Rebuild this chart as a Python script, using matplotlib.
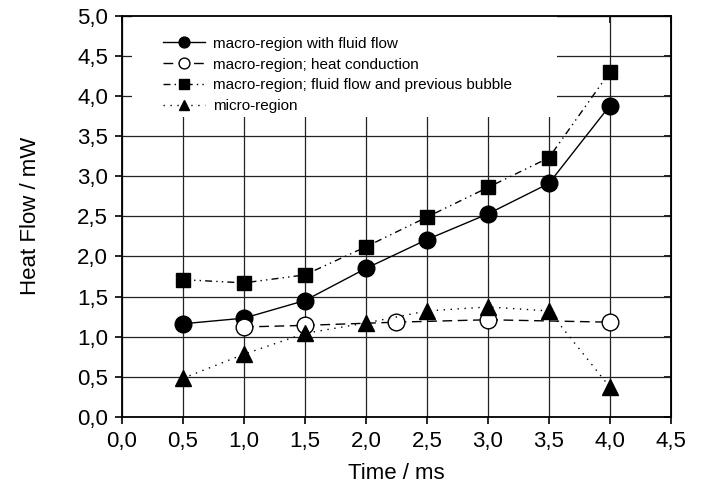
import matplotlib
matplotlib.use('Agg')
import matplotlib.pyplot as plt
from matplotlib.patches import Rectangle
from matplotlib.ticker import FuncFormatter, MultipleLocator

plt.rcParams['font.family'] = ['Liberation Sans', 'DejaVu Sans']

# data
time_main = [0.5, 1.0, 1.5, 2.0, 2.5, 3.0, 3.5, 4.0]
fluid_flow = [1.16, 1.23, 1.45, 1.85, 2.21, 2.53, 2.91, 3.88]
previous_bubble = [1.71, 1.67, 1.77, 2.12, 2.49, 2.86, 3.23, 4.30]
micro_region = [0.48, 0.78, 1.04, 1.17, 1.32, 1.37, 1.32, 0.37]

time_cond = [1.0, 1.5, 2.25, 3.0, 4.0]
heat_conduction = [1.12, 1.14, 1.18, 1.21, 1.18]

labels = ['macro-region with fluid flow',
          'macro-region; heat conduction',
          'macro-region; fluid flow and previous bubble',
          'micro-region']

fig = plt.figure(figsize=(7.01, 4.95), dpi=100)
ax = fig.add_axes([0.174, 0.158, 0.783, 0.810])

lw = 1.0
ax.plot(time_main, fluid_flow, color='black', lw=lw, ls='-',
        marker='o', ms=12, mfc='black', mec='black', label=labels[0], zorder=3)
ax.plot(time_cond, heat_conduction, color='black', lw=lw, ls=(0, (7, 4)),
        marker='o', ms=12, mfc='white', mec='black', mew=1.0, label=labels[1], zorder=3)
ax.plot(time_main, previous_bubble, color='black', lw=lw, ls=(0, (5, 3, 1, 3, 1, 3)),
        marker='s', ms=10, mfc='black', mec='black', label=labels[2], zorder=3)
ax.plot(time_main, micro_region, color='black', lw=lw, ls=(0, (1, 4)),
        marker='^', ms=12, mfc='black', mec='black', label=labels[3], zorder=3)

ax.set_xlim(0, 4.5)
ax.set_ylim(0, 5.0)
ax.xaxis.set_major_locator(MultipleLocator(0.5))
ax.yaxis.set_major_locator(MultipleLocator(0.5))
fmt = FuncFormatter(lambda v, p: f"{v:.1f}".replace('.', ','))
ax.xaxis.set_major_formatter(fmt)
ax.yaxis.set_major_formatter(fmt)

ax.set_axisbelow(True)
ax.grid(True, color='#222222', lw=0.9)

for s in ax.spines.values():
    s.set_linewidth(1.3)

ax.tick_params(direction='out', length=5, width=1.2, labelsize=16, pad=5)

top = ax.secondary_xaxis('top')
top.xaxis.set_major_locator(MultipleLocator(0.5))
top.tick_params(direction='in', length=5, width=1.2, labeltop=False)
right = ax.secondary_yaxis('right')
right.yaxis.set_major_locator(MultipleLocator(0.5))
right.tick_params(direction='in', length=5, width=1.2, labelright=False)

ax.set_xlabel('Time / ms', fontsize=16, labelpad=8)
ax.set_ylabel('Heat Flow / mW', fontsize=16, labelpad=26)

# white box behind the legend hides the grid there
ax.add_patch(Rectangle((0.018, 0.748), 0.774, 0.252, transform=ax.transAxes,
                       facecolor='white', edgecolor='none', zorder=1))

ax.legend(loc='upper left', bbox_to_anchor=(0.074, 0.948), frameon=False,
          fontsize=11, handlelength=2.8, handletextpad=0.5, labelspacing=0.45,
          borderpad=0, borderaxespad=0, markerscale=0.65)

fig.savefig('out.png', dpi=100)
